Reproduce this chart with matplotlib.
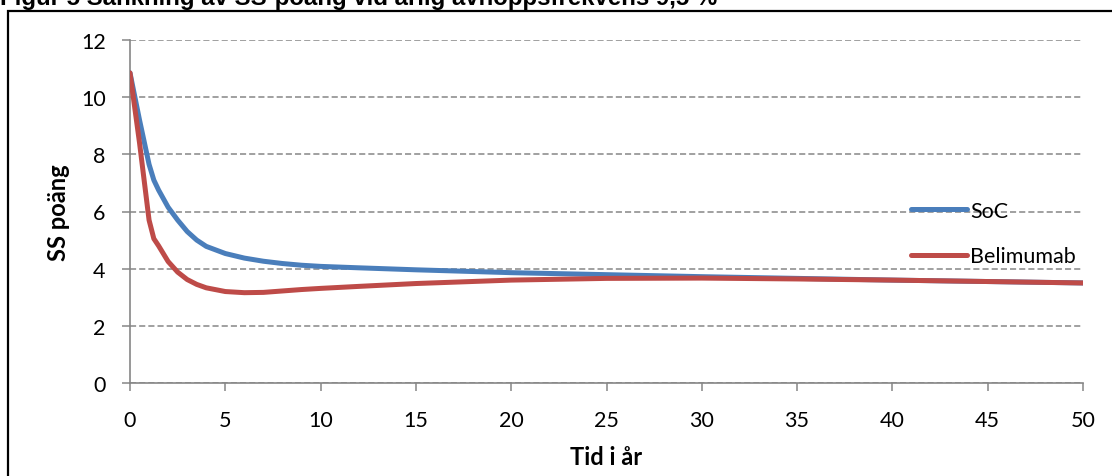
import matplotlib
matplotlib.use("Agg")
import matplotlib.pyplot as plt
from matplotlib.patches import Rectangle

# data (years, SS score)
years = [0, 0.5, 1, 1.25, 1.5, 2, 2.5, 3, 3.5, 4, 5, 6, 7, 8, 9, 10, 12,
         15, 20, 25, 30, 35, 40, 45, 50]
soc = [10.85, 9.2, 7.65, 7.1, 6.75, 6.15, 5.7, 5.3, 5.0, 4.78, 4.53, 4.37,
       4.26, 4.18, 4.12, 4.08, 4.03, 3.96, 3.86, 3.79, 3.72, 3.66, 3.6, 3.55, 3.5]
belimumab = [10.85, 8.4, 5.7, 5.05, 4.8, 4.25, 3.88, 3.62, 3.45, 3.33, 3.2, 3.16,
             3.17, 3.22, 3.27, 3.31, 3.38, 3.48, 3.6, 3.66, 3.67, 3.64, 3.6,
             3.55, 3.5]

series_names = ["SoC", "Belimumab"]
x_ticks = list(range(0, 51, 5))
y_ticks = list(range(0, 13, 2))

title = "Figur 5 Sänkning av SS-poäng vid årlig avhoppsfrekvens 9,5 %"

BLUE = "#4A7EBB"
RED = "#BE4B48"
GRID = "#868686"

W, H = 1112, 477
fig = plt.figure(figsize=(W / 100, H / 100), dpi=100)
ax = fig.add_axes([130 / W, 1 - 384 / H, (1083 - 130) / W, (384 - 41) / H])

ax.plot(years, soc, color=BLUE, lw=3.6, solid_joinstyle="round",
        solid_capstyle="round", label=series_names[0], zorder=3)
ax.plot(years, belimumab, color=RED, lw=3.6, solid_joinstyle="round",
        solid_capstyle="round", label=series_names[1], zorder=3)

ax.set_xlim(0, 50)
ax.set_ylim(0, 12)
ax.set_xticks(x_ticks)
ax.set_yticks(y_ticks)

for s in ["top", "right"]:
    ax.spines[s].set_visible(False)
for s in ["left", "bottom"]:
    ax.spines[s].set_color(GRID)
    ax.spines[s].set_linewidth(1.2)

ax.yaxis.grid(True, color=GRID, linestyle=(0, (4, 2)), linewidth=1.1)
ax.set_axisbelow(True)

tick_font = "Lato"
ax.tick_params(axis="both", direction="out", length=5.5, width=1.1,
               color=GRID, labelsize=15.5)
ax.tick_params(axis="x", pad=14)
ax.tick_params(axis="y", pad=12)
for lab in ax.get_xticklabels() + ax.get_yticklabels():
    lab.set_fontfamily(tick_font)

ax.set_xlabel("Tid i år", fontsize=17, fontweight="bold", family=tick_font)
ax.set_ylabel("SS poäng", fontsize=17, fontweight="bold", family=tick_font)
ax.xaxis.set_label_coords(0.5, -(446 - 384) / (384 - 41))
ax.yaxis.set_label_coords((70 - 130) / (1083 - 130), 0.5)

leg = ax.legend(loc="center left", bbox_to_anchor=(911 / W, 1 - 234.5 / H),
                bbox_transform=fig.transFigure, frameon=False,
                prop={"family": tick_font, "size": 15.5},
                handlelength=2.6, handletextpad=0.15, labelspacing=1.2,
                borderpad=0, borderaxespad=0)
for line in leg.get_lines():
    line.set_solid_capstyle("round")

# outer chart frame (runs off the bottom and right of the crop)
fig.add_artist(Rectangle((8 / W, -0.2), 1.5, 1.2 - 12 / H,
                         transform=fig.transFigure, fill=False,
                         edgecolor="black", linewidth=1.6))

fig.text(0, 1 - 4.5 / H, title, fontsize=17.3, fontweight="bold",
         family="Liberation Sans", ha="left", va="baseline")

fig.savefig("out.png", dpi=100)
